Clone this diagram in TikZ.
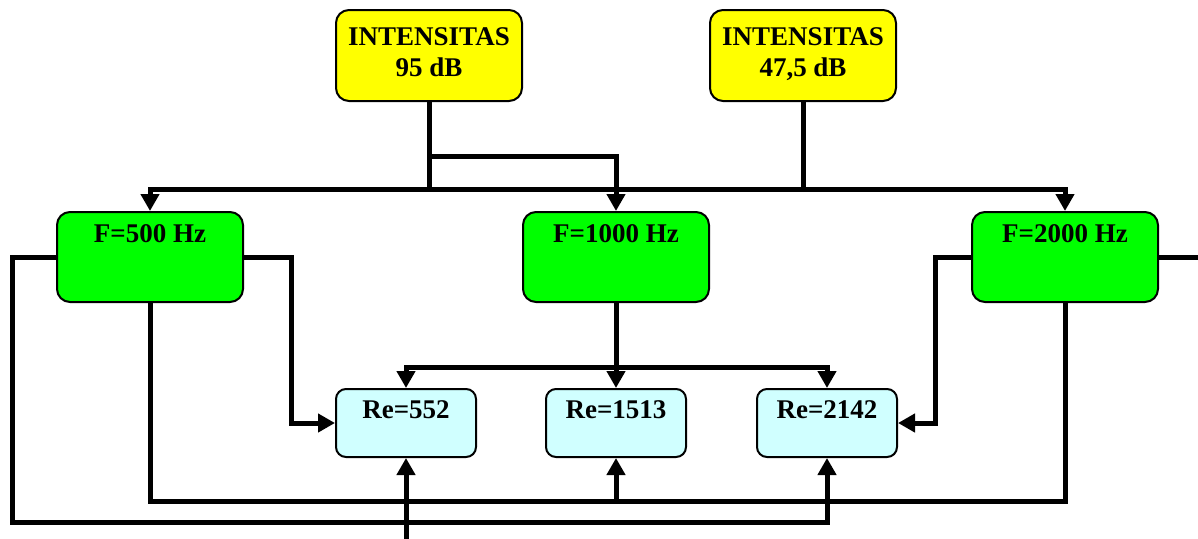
\documentclass[tikz,border=0pt]{standalone}
\usepackage{fontspec}
\setmainfont{Liberation Serif}
\usetikzlibrary{arrows.meta, positioning}
\definecolor{srcyellow}{HTML}{FFFF00}
\definecolor{freqgreen}{HTML}{00FF00}
\definecolor{recyan}{HTML}{D0FFFF}

\begin{document}
\begin{tikzpicture}[x=1pt, y=-1pt,
  every node/.style={font=\fontsize{27}{31}\selectfont\bfseries, inner sep=0pt, align=center},
  ibox/.style={draw, line width=2pt, rounded corners=13pt, fill=srcyellow, minimum width=186pt, text height=66pt, text depth=25pt},
  fbox/.style={draw, line width=2pt, rounded corners=13pt, fill=freqgreen, minimum width=186pt, text height=30pt, text depth=60pt},
  rbox/.style={draw, line width=2pt, rounded corners=10pt, fill=recyan, minimum width=140pt, text height=29pt, text depth=39pt},
  wire/.style={line width=5pt},
  arr/.style={-{Triangle[length=17pt,width=18pt]}},
  arrs/.style={{Triangle[length=17pt,width=18pt]}-{Triangle[length=17pt,width=18pt]}}]
\useasboundingbox (0,0) rectangle (1198,538);

% sources
\node[ibox] (int95) at (429,55.5) {INTENSITAS\\95 dB};
\node[ibox] (int47) at (803,55.5) {INTENSITAS\\47,5 dB};

% frequencies
\node[fbox] (f500) at (150,257) {F=500 Hz};
\node[fbox] (f1000) at (616,257) {F=1000 Hz};
\node[fbox] (f2000) at (1065,257) {F=2000 Hz};

% reynolds numbers
\node[rbox] (re552) at (406,423) {Re=552};
\node[rbox] (re1513) at (616,423) {Re=1513};
\node[rbox] (re2142) at (827,423) {Re=2142};

% bus levels
\coordinate (busM) at (0,156);
\coordinate (busF) at (0,189);
\coordinate (busR) at (0,367);
\coordinate (retA) at (0,501);
\coordinate (retB) at (12,522);
\coordinate (outR) at (1198,257);
\coordinate (inB) at (0,545);

% intensities to frequencies
\draw[wire] (int95.south) -- (int95.south |- busF);
\draw[wire] (int47.south) -- (int47.south |- busF);
\draw[wire, arr] (int95.south |- busM) -| (f1000.north);
\draw[wire, arrs] (f500.north) -- (f500.north |- busF) -- (f2000.north |- busF) -- (f2000.north);

% F=1000 down to all three
\draw[wire] (f1000.south) -- (f1000.south |- busR);
\draw[wire, arrs] (re552.north) -- (re552.north |- busR) -- (re2142.north |- busR) -- (re2142.north);
\draw[wire, arr] (f1000.south |- busR) -- (re1513.north);

% F=500 outputs
\draw[wire, arr] (f500.east) -- ++(47,0) |- (re552.west);
\draw[wire, arr] (f500.west) -| (retB) -| (re2142.south);
\draw[wire] (f500.south) |- (f2000.south |- retA) -- (f2000.south);
\draw[wire, arr] (re1513.south |- retA) -- (re1513.south);

% F=2000 outputs
\draw[wire, arr] (f2000.west) -- ++(-36,0) |- (re2142.east);
\draw[wire] (f2000.east) -- (outR);

% from below
\draw[wire, arr] (re552.south |- inB) -- (re552.south);
\end{tikzpicture}
\end{document}
